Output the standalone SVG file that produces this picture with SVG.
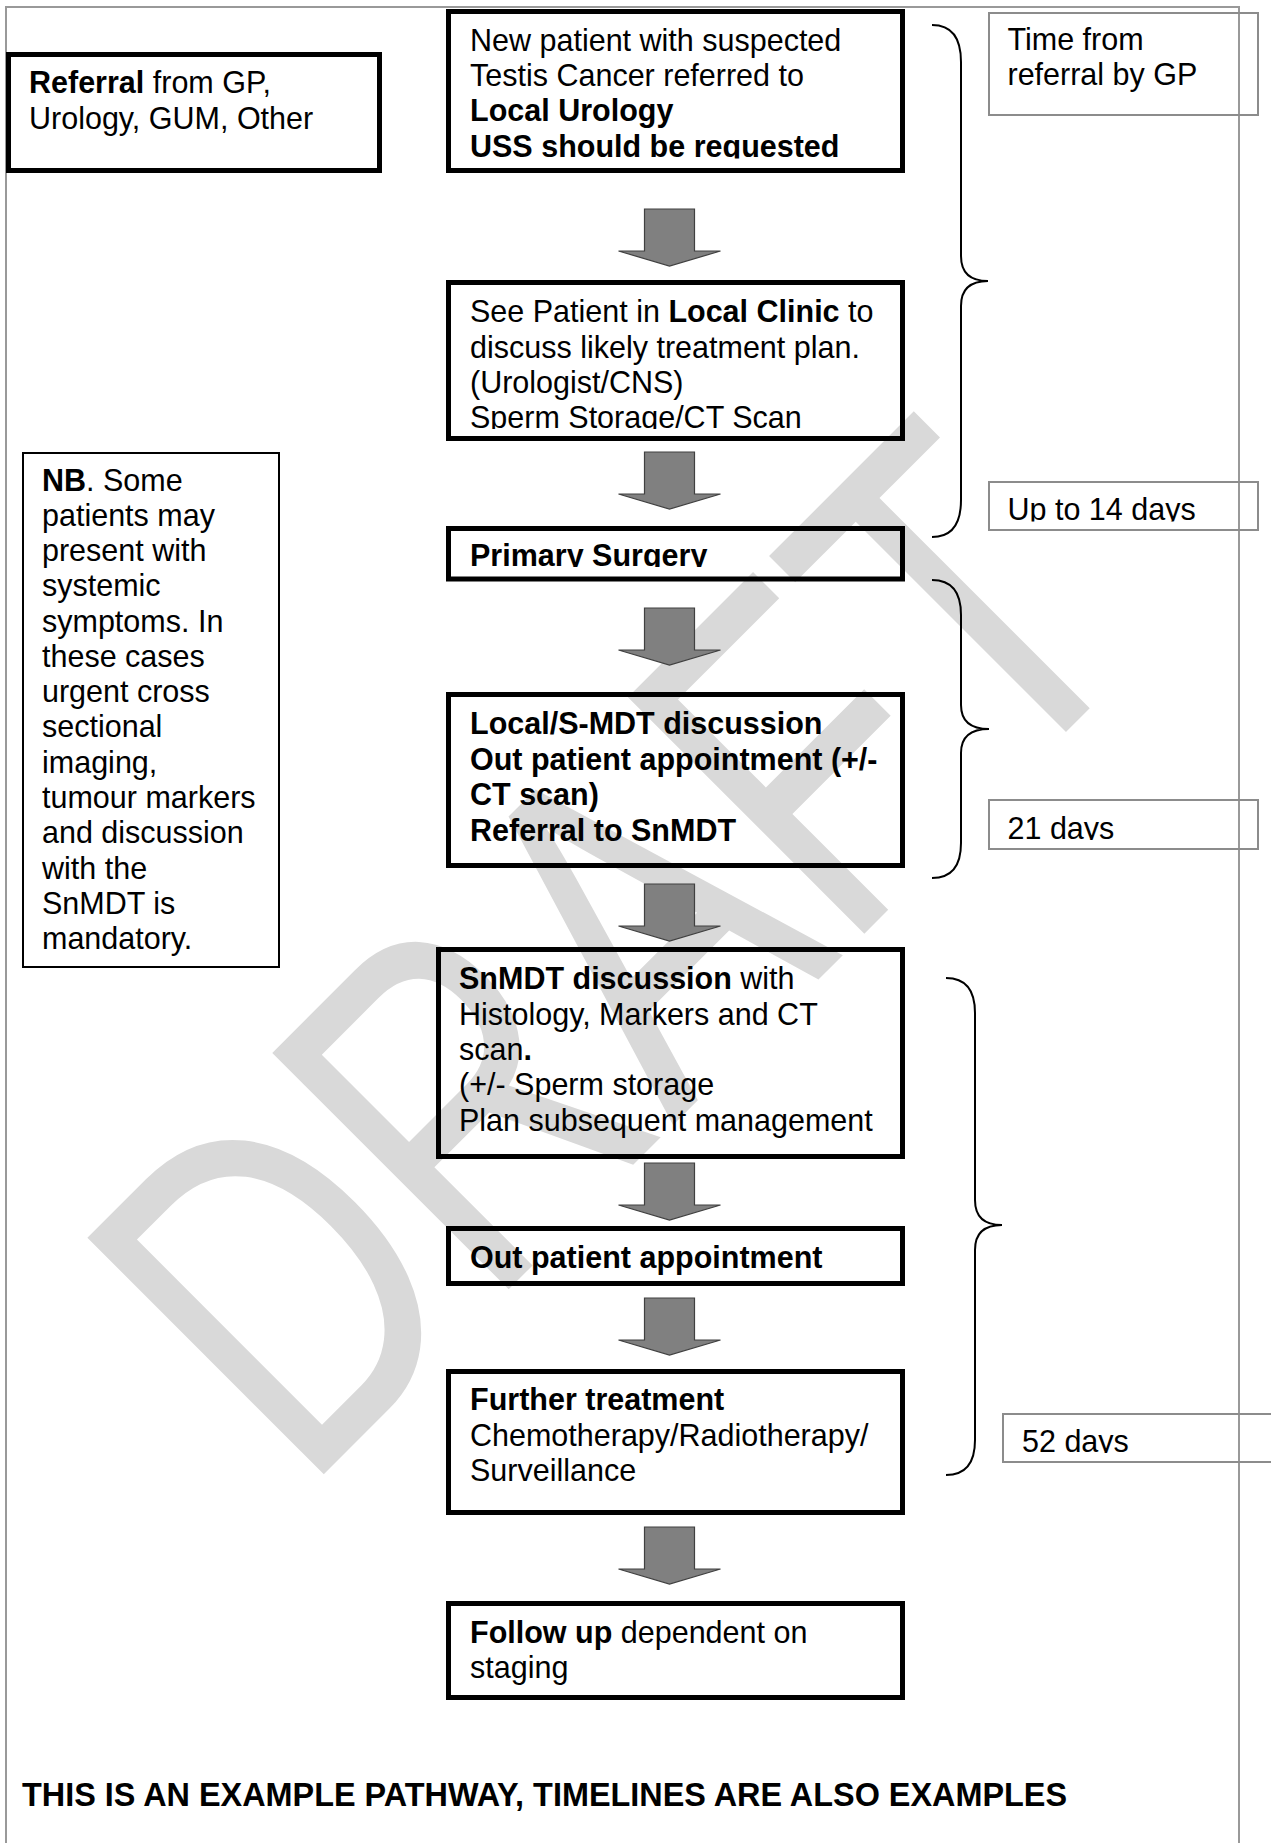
<svg xmlns="http://www.w3.org/2000/svg" xmlns:xlink="http://www.w3.org/1999/xlink" width="1271" height="1843" viewBox="0 0 1271 1843">
<style>
.t{font-family:"Liberation Sans",Arial,sans-serif;font-size:30.5px;fill:#000}
.b{font-weight:bold}
.box{fill:none;stroke:#000;stroke-width:5}
.nb{fill:none;stroke:#000;stroke-width:2}
.gbox{fill:none;stroke:#8c8c8c;stroke-width:2}
.frame{fill:none;stroke:#999;stroke-width:2}
.arrow{fill:#808080;stroke:#404040;stroke-width:1.2}
.brace{fill:none;stroke:#000;stroke-width:2}
.wm{font-family:"Liberation Sans",Arial,sans-serif;font-size:486px;fill:#d9d9d9}
</style>
<defs>
<path id="arr" d="M -25 0 H 25 V 42 H 51 L 0 57 L -51 42 H -25 Z"/>
<clipPath id="c1"><rect x="440" y="0" width="470" height="158.5"/></clipPath>
<clipPath id="c2"><rect x="440" y="280" width="470" height="149"/></clipPath>
<clipPath id="c3"><rect x="440" y="526" width="470" height="41"/></clipPath>
<clipPath id="c14"><rect x="988" y="481" width="280" height="40.5"/></clipPath>
<clipPath id="c21"><rect x="988" y="799" width="280" height="41"/></clipPath>
<clipPath id="c52"><rect x="1002" y="1413" width="280" height="40"/></clipPath>
</defs>
<rect width="1271" height="1843" fill="#fff"/>
<text class="wm" transform="translate(302.8,1495.2) rotate(-45) scale(0.745,1)">DRAFT</text>
<rect class="frame" x="6" y="7" width="1233" height="1850"/>

<g id="referral">
<rect class="box" x="8.5" y="54.5" width="371" height="116"/>
<text class="t" x="29" y="93"><tspan class="b">Referral</tspan> from GP,</text>
<text class="t" x="29" y="128.5">Urology, GUM, Other</text>
</g>

<g id="new-patient">
<rect class="box" x="448.5" y="11.5" width="454" height="159"/>
<g clip-path="url(#c1)">
<text class="t" x="470" y="50.5">New patient with suspected</text>
<text class="t" x="470" y="86">Testis Cancer referred to</text>
<text class="t b" x="470" y="121">Local Urology</text>
<text class="t b" x="470" y="156.5">USS should be requested</text>
</g>
</g>

<g id="local-clinic">
<rect class="box" x="448.5" y="282.5" width="454" height="156"/>
<g clip-path="url(#c2)">
<text class="t" x="470" y="322">See Patient in <tspan class="b">Local Clinic</tspan> to</text>
<text class="t" x="470" y="357.5">discuss likely treatment plan.</text>
<text class="t" x="470" y="393">(Urologist/CNS)</text>
<text class="t" x="470" y="427.5">Sperm Storage/CT Scan</text>
</g>
</g>

<g id="primary-surgery">
<rect class="box" x="448.5" y="528.5" width="454" height="50.5"/>
<g clip-path="url(#c3)">
<text class="t b" x="470" y="565.5">Primary Surgery</text>
</g>
</g>

<g id="local-mdt">
<rect class="box" x="448.5" y="694.5" width="454" height="171"/>
<text class="t b" x="470" y="734">Local/S-MDT discussion</text>
<text class="t b" x="470" y="769.5">Out patient appointment (+/-</text>
<text class="t b" x="470" y="805">CT scan)</text>
<text class="t b" x="470" y="840.5">Referral to SnMDT</text>
</g>

<g id="snmdt">
<rect class="box" x="438.5" y="949.5" width="464" height="207"/>
<text class="t" x="459" y="989"><tspan class="b">SnMDT discussion</tspan> with</text>
<text class="t" x="459" y="1024.5">Histology, Markers and CT</text>
<text class="t" x="459" y="1059.5">scan<tspan class="b">.</tspan></text>
<text class="t" x="459" y="1095">(+/- Sperm storage</text>
<text class="t" x="459" y="1130.5">Plan subsequent management</text>
</g>

<g id="outpatient">
<rect class="box" x="448.5" y="1228.5" width="454" height="55"/>
<text class="t b" x="470" y="1268">Out patient appointment</text>
</g>

<g id="further-treatment">
<rect class="box" x="448.5" y="1371.5" width="454" height="141"/>
<text class="t b" x="470" y="1410">Further treatment</text>
<text class="t" x="470" y="1445.5">Chemotherapy/Radiotherapy/</text>
<text class="t" x="470" y="1480.5">Surveillance</text>
</g>

<g id="follow-up">
<rect class="box" x="448.5" y="1603.5" width="454" height="94"/>
<text class="t" x="470" y="1643"><tspan class="b">Follow up</tspan> dependent on</text>
<text class="t" x="470" y="1678">staging</text>
</g>

<g id="nb-note">
<rect class="nb" x="23" y="453" width="256" height="514"/>
<text class="t" x="42" y="490.5"><tspan class="b">NB</tspan>. Some</text>
<text class="t" x="42" y="525.8">patients may</text>
<text class="t" x="42" y="561">present with</text>
<text class="t" x="42" y="596.3">systemic</text>
<text class="t" x="42" y="631.6">symptoms. In</text>
<text class="t" x="42" y="666.8">these cases</text>
<text class="t" x="42" y="702.1">urgent cross</text>
<text class="t" x="42" y="737.4">sectional</text>
<text class="t" x="42" y="772.7">imaging,</text>
<text class="t" x="42" y="807.9">tumour markers</text>
<text class="t" x="42" y="843.2">and discussion</text>
<text class="t" x="42" y="878.5">with the</text>
<text class="t" x="42" y="913.7">SnMDT is</text>
<text class="t" x="42" y="949">mandatory.</text>
</g>

<g id="time-header">
<rect class="gbox" x="989" y="13" width="269" height="102"/>
<text class="t" x="1007.5" y="50">Time from</text>
<text class="t" x="1007.5" y="85">referral by GP</text>
</g>

<g id="time-14">
<rect class="gbox" x="989" y="482" width="269" height="48"/>
<g clip-path="url(#c14)"><text class="t" x="1007.5" y="520">Up to 14 days</text></g>
</g>

<g id="time-21">
<rect class="gbox" x="989" y="800" width="269" height="49"/>
<g clip-path="url(#c21)"><text class="t" x="1007.5" y="839">21 days</text></g>
</g>

<g id="time-52">
<rect class="gbox" x="1003" y="1414" width="280" height="48"/>
<g clip-path="url(#c52)"><text class="t" x="1022" y="1452">52 days</text></g>
</g>

<g id="connectors">
<use href="#arr" xlink:href="#arr" class="arrow" x="669.5" y="209"/>
<use href="#arr" xlink:href="#arr" class="arrow" x="669.5" y="452"/>
<use href="#arr" xlink:href="#arr" class="arrow" x="669.5" y="608"/>
<use href="#arr" xlink:href="#arr" class="arrow" x="669.5" y="884"/>
<use href="#arr" xlink:href="#arr" class="arrow" x="669.5" y="1163"/>
<use href="#arr" xlink:href="#arr" class="arrow" x="669.5" y="1298"/>
<use href="#arr" xlink:href="#arr" class="arrow" x="669.5" y="1527"/>
</g>

<g id="braces">
<path class="brace" d="M932 25 Q961 25 961 62 L961 256 Q961 281 988 281 Q961 281 961 306 L961 500 Q961 537 932 537"/>
<path class="brace" d="M932 580 Q961 580 961 615 L961 705 Q961 729 989 729 Q961 729 961 753 L961 843 Q961 878 932 878"/>
<path class="brace" d="M946 978 Q975 978 975 1013 L975 1200 Q975 1225 1002 1225 Q975 1225 975 1250 L975 1440 Q975 1475 946 1475"/>
</g>

<text class="t b" x="22" y="1806" style="font-size:32.4px">THIS IS AN EXAMPLE PATHWAY, TIMELINES ARE ALSO EXAMPLES</text>
</svg>
